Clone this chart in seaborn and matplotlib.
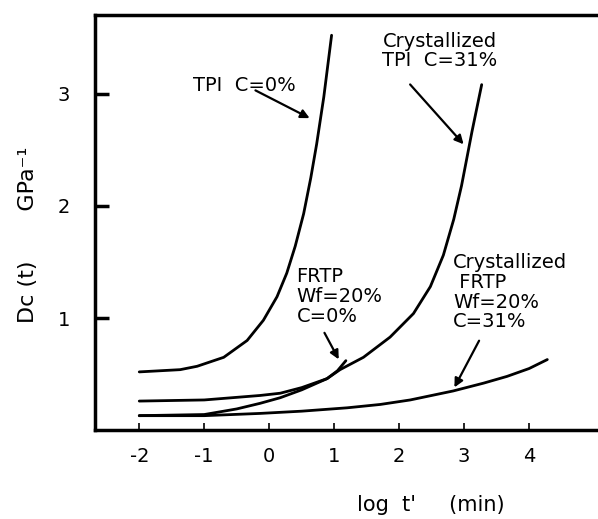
import matplotlib
matplotlib.use("Agg")
import matplotlib.pyplot as plt
import seaborn as sns
import pandas as pd

# ---- data ----
tpi_x = [-2, -1.37, -1.11, -0.70, -0.34, -0.09, 0.12, 0.27, 0.40, 0.53, 0.64, 0.73, 0.84, 0.96]
tpi_y = [0.52, 0.54, 0.57, 0.65, 0.80, 0.98, 1.19, 1.40, 1.64, 1.93, 2.25, 2.55, 2.97, 3.52]

frtp_x = [-2, -1, -0.14, 0.17, 0.5, 0.89, 1.05, 1.18]
frtp_y = [0.26, 0.27, 0.31, 0.33, 0.38, 0.46, 0.53, 0.62]

ctpi_x = [-2, -1, -0.5, -0.14, 0.17, 0.5, 0.89, 1.09, 1.45, 1.86, 2.22, 2.48, 2.68, 2.84, 2.96, 3.12, 3.27]
ctpi_y = [0.13, 0.14, 0.19, 0.24, 0.29, 0.36, 0.46, 0.54, 0.65, 0.83, 1.04, 1.28, 1.56, 1.88, 2.18, 2.66, 3.08]

cfrtp_x = [-2, -1, -0.14, 0.5, 1.2, 1.71, 2.17, 2.83, 3.3, 3.66, 4.0, 4.28]
cfrtp_y = [0.13, 0.13, 0.15, 0.17, 0.20, 0.23, 0.27, 0.35, 0.42, 0.48, 0.55, 0.63]

x_ticks = [-2, -1, 0, 1, 2, 3, 4]
x_tick_labels = ["-2", "-1", "0", "1", "2", "3", "4"]
y_ticks = [1, 2, 3]
y_tick_labels = ["1", "2", "3"]

series_names = ["TPI C=0%", "FRTP C=0%", "Crystallized TPI", "Crystallized FRTP"]

frames = []
for name, xs, ys in zip(series_names, [tpi_x, frtp_x, ctpi_x, cfrtp_x],
                        [tpi_y, frtp_y, ctpi_y, cfrtp_y]):
    frames.append(pd.DataFrame({"logt": xs, "Dc": ys, "series": name}))
df = pd.concat(frames, ignore_index=True)

# ---- plotting ----
sns.set_style("ticks")
plt.rcParams["font.family"] = ["DejaVu Sans"]
plt.rcParams["axes.unicode_minus"] = False
for k in ["text.color", "axes.labelcolor", "xtick.color", "ytick.color", "axes.edgecolor"]:
    plt.rcParams[k] = "black"

fig = plt.figure(figsize=(5.98, 5.19), dpi=100)
ax = fig.add_axes([0.159, 0.171, 0.841, 0.80])

sns.lineplot(data=df, x="logt", y="Dc", hue="series", units="series",
             estimator=None, sort=False, palette=["black"] * 4,
             linewidth=2.0, legend=False, ax=ax)

ax.set_xlim(-2.68, 5.06)
ax.set_ylim(0, 3.7)
ax.set_xticks(x_ticks)
ax.set_xticklabels(x_tick_labels)
ax.set_yticks(y_ticks)
ax.set_yticklabels(y_tick_labels)
ax.tick_params(axis="y", direction="in", length=10, width=2.5, pad=18, labelsize=14)
ax.tick_params(axis="x", direction="in", length=5, width=1.2, pad=12, labelsize=14)

for s in ["left", "bottom", "top"]:
    ax.spines[s].set_linewidth(2.5)
    ax.spines[s].set_color("black")
ax.spines["right"].set_visible(False)

ax.set_xlabel("log  t'     (min)", fontsize=15)
ax.xaxis.set_label_coords(0.668, -0.155)
ax.set_ylabel("Dc (t)       GPa⁻¹", fontsize=16)
ax.yaxis.set_label_coords(-0.113, 0.47)

fs = 14
arrow = dict(arrowstyle="-|>", color="black", lw=1.6, mutation_scale=13)

ax.text(-1.17, 3.07, "TPI  C=0%", fontsize=fs, ha="left", va="center")
ax.annotate("", xy=(0.66, 2.77), xytext=(-0.25, 3.04), arrowprops=arrow)

ax.text(2.63, 3.38, "Crystallized\nTPI  C=31%", fontsize=fs, ha="center",
        va="center", linespacing=1.0)
ax.annotate("", xy=(3.02, 2.53), xytext=(2.14, 3.10), arrowprops=arrow)

ax.text(0.42, 1.19, "FRTP\nWf=20%\nC=0%", fontsize=fs, ha="left",
        va="center", linespacing=1.05)
ax.annotate("", xy=(1.09, 0.61), xytext=(0.83, 0.89), arrowprops=arrow)

ax.text(2.83, 1.23, "Crystallized\n FRTP\nWf=20%\nC=31%", fontsize=fs,
        ha="left", va="center", linespacing=1.05)
ax.annotate("", xy=(2.83, 0.36), xytext=(3.25, 0.82), arrowprops=arrow)

fig.savefig("out.png", dpi=100)
